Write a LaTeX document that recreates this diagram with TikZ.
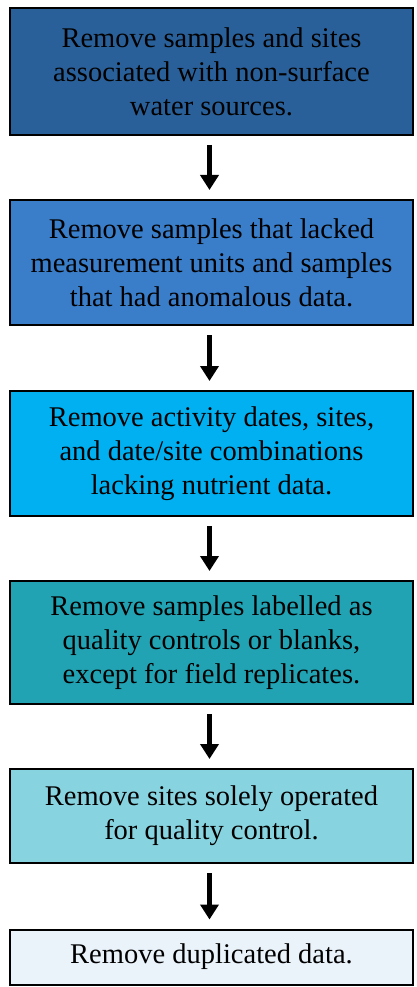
\documentclass[tikz,border=0pt]{standalone}
\usepackage{fontspec}
\setmainfont{Liberation Serif}
\usetikzlibrary{arrows.meta}
\definecolor{cA}{HTML}{2A6099}
\definecolor{cB}{HTML}{3A7DC9}
\definecolor{cC}{HTML}{00B0F0}
\definecolor{cD}{HTML}{21A3B3}
\definecolor{cE}{HTML}{87D3DF}
\definecolor{cF}{HTML}{EAF2FA}
\tikzset{
  stepbox/.style={draw=black, line width=2pt, minimum width=403pt, inner sep=0pt,
    align=center, font=\fontsize{28.5}{34}\selectfont, text=black},
  flowarrow/.style={line width=5pt, -{Triangle[width=18pt,length=15pt]}, shorten <=9pt, shorten >=9pt}
}
\begin{document}
\begin{tikzpicture}[x=1pt,y=1pt]
\useasboundingbox (0,0) rectangle (417,-987);
\node[stepbox, fill=cA, minimum height=127pt] (b1) at (211.5,-71.5) {Remove samples and sites\\associated with non-surface\\water sources.};
\node[stepbox, fill=cB, minimum height=125pt] (b2) at (211.5,-262.5) {Remove samples that lacked\\measurement units and samples\\that had anomalous data.};
\node[stepbox, fill=cC, minimum height=125pt] (b3) at (211.5,-453.5) {Remove activity dates, sites,\\and date/site combinations\\lacking nutrient data.};
\node[stepbox, fill=cD, minimum height=123pt] (b4) at (211.5,-642.5) {Remove samples labelled as\\quality controls or blanks,\\except for field replicates.};
\node[stepbox, fill=cE, minimum height=94pt] (b5) at (211.5,-816) {Remove sites solely operated\\for quality control.};
\node[stepbox, fill=cF, minimum height=55pt] (b6) at (211.5,-957) {Remove duplicated data.};
\draw[flowarrow] ([xshift=-2pt]b1.south) -- ([xshift=-2pt]b2.north);
\draw[flowarrow] ([xshift=-2pt]b2.south) -- ([xshift=-2pt]b3.north);
\draw[flowarrow] ([xshift=-2pt]b3.south) -- ([xshift=-2pt]b4.north);
\draw[flowarrow] ([xshift=-2pt]b4.south) -- ([xshift=-2pt]b5.north);
\draw[flowarrow] ([xshift=-2pt]b5.south) -- ([xshift=-2pt]b6.north);
\end{tikzpicture}
\end{document}
